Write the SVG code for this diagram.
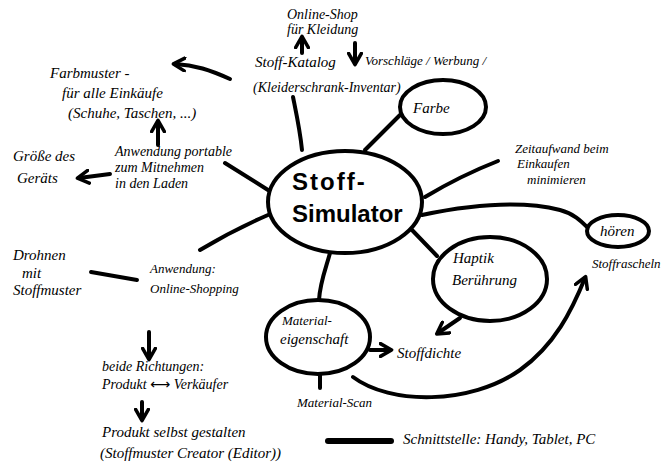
<svg xmlns="http://www.w3.org/2000/svg" width="672" height="465" viewBox="0 0 672 465">
<style>
.t{font-family:"Liberation Serif","DejaVu Serif",serif;font-style:italic;font-size:15px;fill:#000}
.s{font-size:13px}
.m{font-size:14px}
.c{font-family:"Liberation Sans","DejaVu Sans",sans-serif;font-weight:bold;font-size:24px;fill:#000}
.n{fill:#fff;stroke:#000;stroke-width:4}
.l{fill:none;stroke:#000;stroke-width:4;stroke-linecap:round}
.a{fill:none;stroke:#000;stroke-width:4;stroke-linecap:round;marker-end:url(#ah)}
</style>
<defs>
<marker id="ah" viewBox="0 0 10 10" refX="7" refY="5" markerWidth="4" markerHeight="4" orient="auto">
<path d="M1,1 L8,5 L1,9" fill="none" stroke="#000" stroke-width="2.2" stroke-linecap="round" stroke-linejoin="round"/>
</marker>
</defs>
<rect width="672" height="465" fill="#fff"/>
<g id="connectors">
<path class="l" d="M302,150 C300,130 296,112 293,97"/>
<path class="l" d="M365,150 L400,115"/>
<path class="l" d="M425,197 C450,182 475,170 498,161"/>
<path class="l" d="M422,215 C470,205 520,200 560,210 C575,214 582,222 588,228"/>
<path class="l" d="M412,230 L437,256"/>
<path class="l" d="M330,253 C326,268 320,282 319,300"/>
<path class="l" d="M268,190 L225,163"/>
<path class="l" d="M268,215 C245,225 220,238 200,250"/>
<path class="l" d="M320,375 L320,388"/>
<path class="a" d="M370,350 L390,350"/>
<path class="a" d="M460,318 L438,333"/>
<path class="a" d="M353,377 C390,405 470,405 520,370 C555,345 572,310 585,278"/>
<path class="a" d="M302,53 L302,38"/>
<path class="a" d="M355,43 L355,63"/>
<path class="a" d="M230,79 C210,70 195,65 175,64"/>
<path class="a" d="M158,145 L158,122"/>
<path class="a" d="M110,174 L79,178"/>
<path class="l" d="M91,272 L137,280"/>
<path class="a" d="M149,332 L149,358"/>
<path class="a" d="M142,402 L142,419"/>
<path class="l" d="M328,441 L391,441" style="stroke-width:6"/>
</g>
<g id="stoff-simulator">
<ellipse class="n" cx="345" cy="202" rx="77" ry="51"/>
<text class="c" x="292" y="190" letter-spacing="2">Stoff-</text>
<text class="c" x="292" y="222">Simulator</text>
</g>
<g id="farbe">
<ellipse class="n" cx="443" cy="107" rx="43" ry="27"/>
<text class="t" x="413" y="113">Farbe</text>
</g>
<g id="hoeren">
<ellipse class="n" cx="618" cy="231" rx="31" ry="16"/>
<text class="t" x="600" y="236">hören</text>
</g>
<g id="haptik">
<ellipse class="n" cx="490" cy="279" rx="57" ry="42"/>
<text class="t" x="453" y="263">Haptik</text>
<text class="t" x="452" y="285">Berührung</text>
</g>
<g id="material">
<ellipse class="n" cx="318" cy="337" rx="52" ry="37"/>
<text class="t s" x="282" y="325">Material-</text>
<text class="t" x="280" y="344">eigenschaft</text>
</g>
<g id="material-scan"><text class="t s" x="297" y="407">Material-Scan</text></g>
<g id="stoffdichte"><text class="t" x="397" y="358">Stoffdichte</text></g>
<g id="stoffrascheln"><text class="t s" x="592" y="268">Stoffrascheln</text></g>
<g id="zeitaufwand">
<text class="t s" x="515" y="153">Zeitaufwand beim</text>
<text class="t s" x="517" y="168">Einkaufen</text>
<text class="t s" x="527" y="184">minimieren</text>
</g>
<g id="stoff-katalog">
<text class="t" x="255" y="67">Stoff-Katalog</text>
<text class="t m" x="253" y="92">(Kleiderschrank-Inventar)</text>
</g>
<g id="online-shop">
<text class="t m" x="287" y="19">Online-Shop</text>
<text class="t m" x="287" y="34">für Kleidung</text>
</g>
<g id="vorschlaege"><text class="t s" x="365" y="65">Vorschläge / Werbung /</text></g>
<g id="farbmuster">
<text class="t" x="50" y="78">Farbmuster -</text>
<text class="t" x="62" y="98">für alle Einkäufe</text>
<text class="t" x="68" y="118">(Schuhe, Taschen, ...)</text>
</g>
<g id="anwendung-portable">
<text class="t m" x="115" y="156">Anwendung portable</text>
<text class="t m" x="115" y="172">zum Mitnehmen</text>
<text class="t m" x="115" y="188">in den Laden</text>
</g>
<g id="groesse">
<text class="t" x="13" y="161">Größe des</text>
<text class="t" x="17" y="183">Geräts</text>
</g>
<g id="drohnen">
<text class="t" x="13" y="260">Drohnen</text>
<text class="t" x="22" y="278">mit</text>
<text class="t" x="13" y="295">Stoffmuster</text>
</g>
<g id="online-shopping">
<text class="t s" x="150" y="273">Anwendung:</text>
<text class="t s" x="150" y="293">Online-Shopping</text>
</g>
<g id="beide-richtungen">
<text class="t m" x="102" y="371">beide Richtungen:</text>
<text class="t m" x="102" y="389">Produkt <tspan font-family="DejaVu Sans">⟷</tspan> Verkäufer</text>
</g>
<g id="produkt-gestalten">
<text class="t" x="102" y="437">Produkt selbst gestalten</text>
<text class="t" x="100" y="458">(Stoffmuster Creator (Editor))</text>
</g>
<g id="schnittstelle"><text class="t" x="403" y="444">Schnittstelle: Handy, Tablet, PC</text></g>
</svg>
